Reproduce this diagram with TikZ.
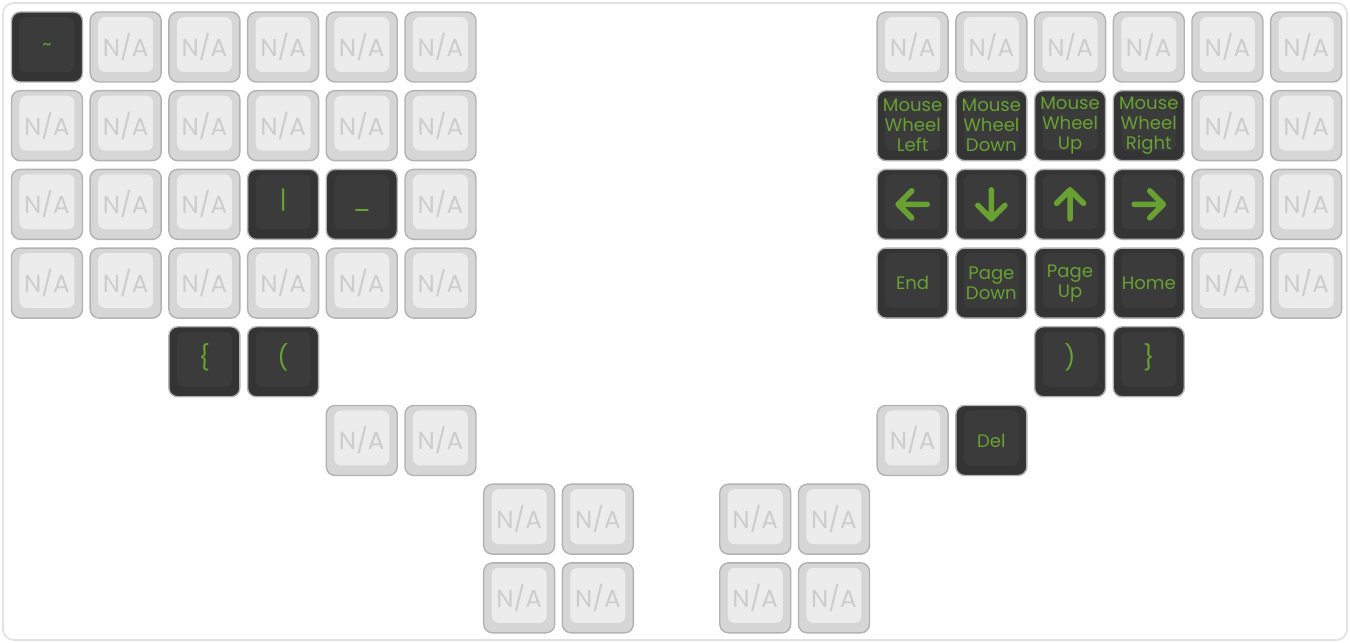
\documentclass[tikz,border=0pt]{standalone}
\usepackage{fontspec}
\setmainfont{Poppins}
\definecolor{frame}{HTML}{E2E2E2}
\definecolor{keyedge}{HTML}{B2B2B2}
\definecolor{naside}{HTML}{D6D6D6}
\definecolor{naface}{HTML}{ECECEC}
\definecolor{natext}{HTML}{CDCDCD}
\definecolor{fnside}{HTML}{333433}
\definecolor{fnface}{HTML}{3A3B3A}
\definecolor{fngreen}{HTML}{68A032}
\tikzset{
  key/.style={draw=keyedge, line width=0.8pt, rounded corners=5pt,
    minimum width=1.42cm, minimum height=1.40cm, inner sep=0pt, align=center,
    font=\fontsize{10.3}{11.4}\selectfont},
  face/.style={path picture={\fill[#1, rounded corners=4pt]
    ([xshift=0.16cm,yshift=-0.10cm]path picture bounding box.north west) rectangle
    ([xshift=-0.16cm,yshift=0.20cm]path picture bounding box.south east);}},
  nakey/.style={key, fill=naside, face=naface, text=natext,
    font=\fontsize{14}{16}\selectfont},
  fnkey/.style={key, fill=fnside, face=fnface, text=fngreen},
  symkey/.style={fnkey, font=\fontsize{14}{16}\selectfont,
    text height=0.75em, text depth=0.25em},
  arrowline/.style={fngreen, line width=3.2pt, line cap=round, line join=round}
}
\begin{document}
\begin{tikzpicture}[x=1.574cm,y=-1.574cm]
    \useasboundingbox (-0.597,-0.597) rectangle (16.557,7.573);
    \draw[frame, line width=1pt, rounded corners=6pt] (-0.559,-0.559) rectangle (16.519,7.535);
    % unassigned keys
    \foreach \c/\r in {1/0,2/0,3/0,4/0,5/0, 0/1,1/1,2/1,3/1,4/1,5/1,
        0/2,1/2,2/2,5/2, 0/3,1/3,2/3,3/3,4/3,5/3, 4/5,5/5, 6/6,7/6,6/7,7/7,
        11/0,12/0,13/0,14/0,15/0,16/0, 15/1,16/1,15/2,16/2,15/3,16/3,
        11/5, 9/6,10/6,9/7,10/7}
        \node[nakey] (k-\c-\r) at (\c,\r) {N/A};
    % left half
    \node[fnkey] (tilde) at (0,0) {\textasciitilde};
    \node[symkey] (pipe) at (3,2) {|};
    \node[symkey] (under) at (4,2) {\_};
    \node[symkey] (lbrace) at (2,4) {\{};
    \node[symkey] (lparen) at (3,4) {(};
    % right half
    \node[fnkey] (mwl) at (11,1) {Mouse\\Wheel\\Left};
    \node[fnkey] (mwd) at (12,1) {Mouse\\Wheel\\Down};
    \node[fnkey] (mwu) at (13,1) {Mouse\\Wheel\\Up};
    \node[fnkey] (mwr) at (14,1) {Mouse\\Wheel\\Right};
    \node[fnkey] (left) at (11,2) {};
    \node[fnkey] (down) at (12,2) {};
    \node[fnkey] (up) at (13,2) {};
    \node[fnkey] (right) at (14,2) {};
    \node[fnkey] (end) at (11,3) {End};
    \node[fnkey] (pgdn) at (12,3) {Page\\Down};
    \node[fnkey] (pgup) at (13,3) {Page\\Up};
    \node[fnkey] (home) at (14,3) {Home};
    \node[symkey] (rparen) at (13,4) {)};
    \node[symkey] (rbrace) at (14,4) {\}};
    \node[fnkey] (del) at (12,5) {Del};
    % arrow glyphs
    \foreach \n/\a in {left/180,down/270,up/90,right/0}
        \draw[arrowline, shift={(\n.center)}, rotate=\a]
            (-0.29cm,0cm) -- (0.29cm,0cm) (0.02cm,0.27cm) -- (0.29cm,0cm) -- (0.02cm,-0.27cm);
\end{tikzpicture}
\end{document}
